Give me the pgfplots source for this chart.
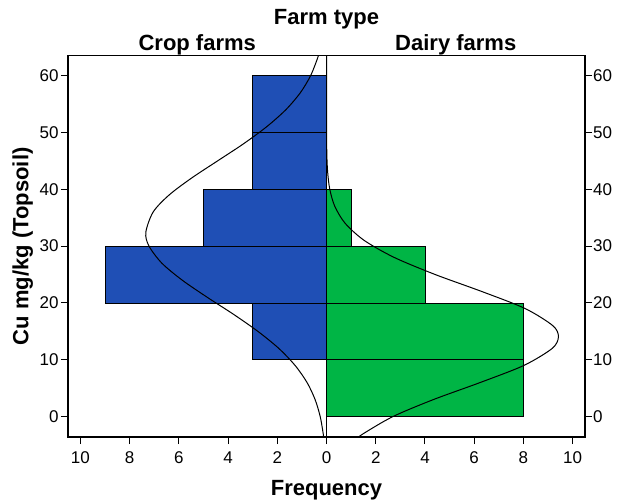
\documentclass[border=0pt]{standalone}
\usepackage{fontspec}
\setmainfont{Liberation Sans}
\usepackage{pgfplots}
\pgfplotsset{compat=1.18}
\definecolor{cropblue}{RGB}{31,79,181}
\definecolor{dairygreen}{RGB}{0,181,69}
\begin{document}
\begin{tikzpicture}
\pgfplotsset{
  common/.style={
    scale only axis, width=517pt, height=381.3pt,
    xmin=-10.5, xmax=10.5, ymin=-3.6, ymax=63.5,
    ytick={0,10,...,60},
    tick align=outside, major tick length=7pt,
    /pgf/number format/assume math mode=true,
    tick label style={font=\fontsize{17}{19}\selectfont},
    tick style={black, line width=1pt},
    axis line style={line width=1.2pt},
  }
}
\begin{axis}[common, name=ax,
    xtick={-10,-8,...,10},
    xticklabels={10,8,6,4,2,0,2,4,6,8,10},
    xtick pos=bottom, ytick pos=left,
    xticklabel style={yshift=-4pt},
    yticklabel style={xshift=1pt},
    clip mode=individual,
  ]
  % Crop farms (left, negative direction)
  \addplot[fill=cropblue, draw=black, line width=0.6pt] coordinates {(0,10) (-3,10) (-3,20) (0,20)} -- cycle;
  \addplot[fill=cropblue, draw=black, line width=0.6pt] coordinates {(0,20) (-9,20) (-9,30) (0,30)} -- cycle;
  \addplot[fill=cropblue, draw=black, line width=0.6pt] coordinates {(0,30) (-5,30) (-5,40) (0,40)} -- cycle;
  \addplot[fill=cropblue, draw=black, line width=0.6pt] coordinates {(0,40) (-3,40) (-3,50) (0,50)} -- cycle;
  \addplot[fill=cropblue, draw=black, line width=0.6pt] coordinates {(0,50) (-3,50) (-3,60) (0,60)} -- cycle;
  % Dairy farms (right)
  \addplot[fill=dairygreen, draw=black, line width=0.6pt] coordinates {(0,0) (8,0) (8,10) (0,10)} -- cycle;
  \addplot[fill=dairygreen, draw=black, line width=0.6pt] coordinates {(0,10) (8,10) (8,20) (0,20)} -- cycle;
  \addplot[fill=dairygreen, draw=black, line width=0.6pt] coordinates {(0,20) (4,20) (4,30) (0,30)} -- cycle;
  \addplot[fill=dairygreen, draw=black, line width=0.6pt] coordinates {(0,30) (1,30) (1,40) (0,40)} -- cycle;
  % Normal curves
  \addplot[black, line width=1pt, smooth, no marks] coordinates {
    (-0.106,-4) (-0.134,-3) (-0.256,0) (-0.464,3) (-0.792,6) (-1.277,9) (-1.94,12)
    (-2.79,15) (-3.78,18) (-4.85,21) (-5.86,24) (-6.69,27) (-7.21,30) (-7.34,32.4)
    (-7.04,36) (-6.39,39) (-5.47,42) (-4.42,45) (-3.37,48) (-2.43,51) (-1.65,54)
    (-1.06,57) (-0.644,60) (-0.368,63) (-0.302,64)};
  \addplot[black, line width=1pt, smooth, no marks] coordinates {
    (1.198,-4) (1.50,-3) (2.70,0) (4.35,3) (6.25,6) (8.02,9) (9.17,12) (9.42,14.05)
    (9.19,16) (8.07,19) (6.31,22) (4.41,25) (2.75,28) (1.53,31) (0.759,34) (0.336,37)
    (0.133,40) (0.047,43) (0.0147,46) (0.0026,50) (0.0003,55) (0,64)};
  % centre line
  \addplot[black, line width=1.6pt, no marks] coordinates {(0,-3.6) (0,63.5)};
  \node[font=\fontsize{22}{26}\selectfont\bfseries, anchor=base] at (axis cs:-5.25,63.5) [yshift=5pt] {Crop farms};
  \node[font=\fontsize{22}{26}\selectfont\bfseries, anchor=base] at (axis cs:5.25,63.5) [yshift=5pt] {Dairy farms};
  \node[font=\fontsize{22}{26}\selectfont\bfseries, anchor=base] at (axis cs:0,63.5) [yshift=31pt] {Farm type};
\end{axis}
\begin{axis}[common,
    hide x axis, axis y line*=right,
    ytick pos=right, yticklabel pos=right,
    yticklabel style={xshift=-2.3pt},
  ]
\end{axis}
\node[font=\fontsize{22}{26}\selectfont\bfseries, anchor=base] at ([yshift=-58pt]ax.south) {Frequency};
\node[font=\fontsize{22}{26}\selectfont\bfseries, anchor=base, rotate=90] at ([xshift=-39.6pt]ax.west) {Cu mg/kg (Topsoil)};
\path ([xshift=-68pt,yshift=-65pt]ax.south west) rectangle ([xshift=32pt,yshift=55.7pt]ax.north east);
\end{tikzpicture}
\end{document}
